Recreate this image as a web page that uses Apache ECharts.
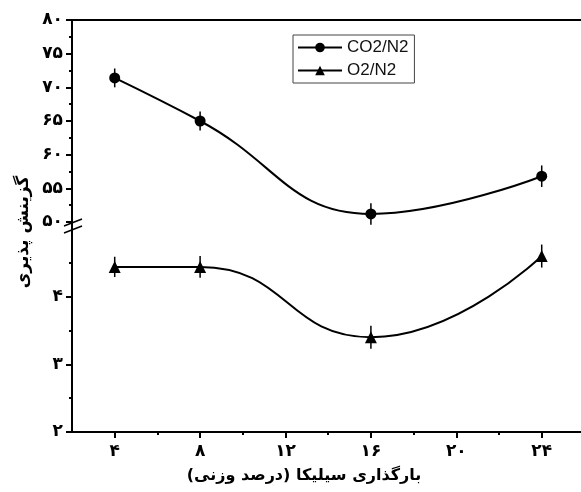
<!DOCTYPE html>
<html>
<head>
<meta charset="utf-8">
<script src="https://cdn.jsdelivr.net/npm/echarts@6/dist/echarts.min.js"></script>
<style>
  html, body { margin: 0; padding: 0; background: #fff; }
  #chart { width: 581px; height: 492px; }
</style>
</head>
<body>
<div id="chart"></div>
<script>
// silica loading (wt%)
const loading = [4, 8, 16, 24];
const co2n2 = [71.4, 65.0, 51.2, 56.8];
const co2n2Err = [1.4, 1.4, 1.6, 1.6];
const o2n2 = [4.44, 4.44, 3.4, 4.6];
const o2n2Err = [0.15, 0.16, 0.17, 0.17];

const xTicks = [4, 8, 12, 16, 20, 24];
const xMinor = [6, 10, 14, 18, 22];
const lowTicks = [2, 3, 4];
const lowMinor = [2.5, 3.5, 4.5];

const faDigits = '۰۱۲۳۴۵۶۷۸۹';
function fa(v) {
  return String(v).replace(/\d/g, d => faDigits[d]);
}

const chart = echarts.init(document.getElementById('chart'));

const labelFont = { color: '#000', fontFamily: 'DejaVu Sans', fontWeight: 'bold', fontSize: 17 };
const axisLine = { show: true, lineStyle: { color: '#000', width: 2 } };

function pairs(xs, ys, errs) {
  return xs.map((x, i) => errs ? [x, ys[i], errs[i]] : [x, ys[i]]);
}

function errorBar(params, api) {
  const x = api.value(0), y = api.value(1), e = api.value(2);
  const p1 = api.coord([x, y + e]);
  const p2 = api.coord([x, y - e]);
  return {
    type: 'line',
    shape: { x1: p1[0], y1: p1[1], x2: p2[0], y2: p2[1] },
    style: { stroke: '#000', lineWidth: 1.5 }
  };
}

const option = {
  animation: false,
  backgroundColor: '#fff',
  grid: [
    { left: 72, right: 0, top: 20, height: 202 },
    { left: 72, right: 0, top: 229, height: 203 }
  ],
  legend: {
    left: 293, top: 35,
    orient: 'vertical',
    borderColor: '#444', borderWidth: 1,
    padding: [4, 6, 4, 4],
    itemWidth: 44, itemHeight: 12, itemGap: 6,
    textStyle: { fontFamily: 'Liberation Sans', fontSize: 17, color: '#111' },
    data: ['CO2/N2', 'O2/N2']
  },
  xAxis: [
    {
      gridIndex: 0, type: 'value', position: 'top', min: 2, max: 25.84,
      axisLine: axisLine, axisTick: { show: false }, axisLabel: { show: false }, splitLine: { show: false }
    },
    {
      gridIndex: 1, type: 'value', position: 'bottom', min: 2, max: 25.84,
      axisLine: axisLine,
      axisTick: { show: true, inside: false, length: 6, lineStyle: { color: '#000', width: 2 }, customValues: xTicks },
      axisLabel: Object.assign({ margin: 11, formatter: fa, customValues: xTicks }, labelFont),
      splitLine: { show: false }
    },
    {
      gridIndex: 1, type: 'value', position: 'bottom', min: 2, max: 25.84,
      axisLine: { show: false },
      axisTick: { show: true, length: 3, lineStyle: { color: '#000', width: 2 }, customValues: xMinor },
      axisLabel: { show: false }, splitLine: { show: false }
    }
  ],
  yAxis: [
    {
      gridIndex: 0, type: 'value', position: 'left', min: 50, max: 80, interval: 5,
      axisLine: axisLine,
      axisTick: { show: true, length: 6, lineStyle: { color: '#000', width: 2 } },
      minorTick: { show: true, splitNumber: 2, length: 3, lineStyle: { color: '#000', width: 2 } },
      axisLabel: Object.assign({ margin: 9, formatter: fa }, labelFont),
      splitLine: { show: false }
    },
    {
      gridIndex: 1, type: 'value', position: 'left', min: 2, max: 5,
      axisLine: axisLine,
      axisTick: { show: true, length: 6, lineStyle: { color: '#000', width: 2 }, customValues: lowTicks },
      axisLabel: Object.assign({ margin: 9, formatter: fa, customValues: lowTicks }, labelFont),
      splitLine: { show: false }
    },
    {
      gridIndex: 1, type: 'value', position: 'left', min: 2, max: 5,
      axisLine: { show: false },
      axisTick: { show: true, length: 3, lineStyle: { color: '#000', width: 2 }, customValues: lowMinor },
      axisLabel: { show: false }, splitLine: { show: false }
    }
  ],
  series: [
    {
      name: 'CO2/N2', type: 'line', xAxisIndex: 0, yAxisIndex: 0,
      data: pairs(loading, co2n2), smooth: 0.45,
      symbol: 'circle', symbolSize: 11,
      lineStyle: { color: '#000', width: 2 }, itemStyle: { color: '#000' }
    },
    {
      name: 'O2/N2', type: 'line', xAxisIndex: 1, yAxisIndex: 1,
      data: pairs(loading, o2n2), smooth: 0.5,
      symbol: 'triangle', symbolSize: 12,
      lineStyle: { color: '#000', width: 2 }, itemStyle: { color: '#000' }
    },
    {
      type: 'custom', xAxisIndex: 0, yAxisIndex: 0, renderItem: errorBar,
      data: pairs(loading, co2n2, co2n2Err), z: 1
    },
    {
      type: 'custom', xAxisIndex: 1, yAxisIndex: 1, renderItem: errorBar,
      data: pairs(loading, o2n2, o2n2Err), z: 1
    }
  ],
  graphic: [
    // axis break on the left axis
    { type: 'line', shape: { x1: 72, y1: 221, x2: 72, y2: 230 }, style: { stroke: '#000', lineWidth: 2 } },
    { type: 'line', shape: { x1: 64, y1: 226, x2: 82, y2: 219 }, style: { stroke: '#000', lineWidth: 1.5 } },
    { type: 'line', shape: { x1: 64, y1: 233, x2: 82, y2: 226 }, style: { stroke: '#000', lineWidth: 1.5 } },
    {
      type: 'text', x: 24, y: 232, rotation: Math.PI / 2,
      style: {
        text: 'گزینش پذیری', fill: '#000',
        font: 'bold 17px "DejaVu Sans"', align: 'center', verticalAlign: 'middle'
      }
    },
    {
      type: 'text', x: 304, y: 476,
      style: {
        text: 'بارگذاری سیلیکا (درصد وزنی)', fill: '#000',
        font: 'bold 16px "DejaVu Sans"', align: 'center', verticalAlign: 'middle'
      }
    }
  ]
};

chart.setOption(option);
</script>
</body>
</html>
